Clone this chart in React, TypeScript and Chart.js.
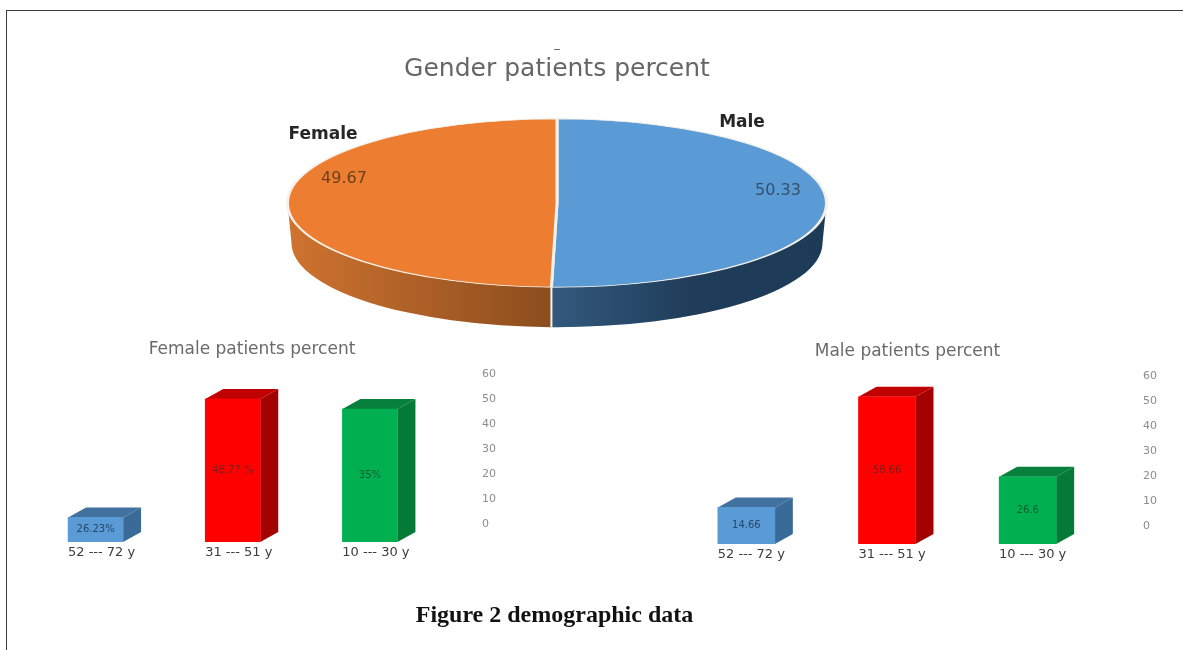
import React, { useEffect, useRef } from "react";
import { Chart, registerables } from "chart.js";

Chart.register(...registerables);

const FONT = "'DejaVu Sans', sans-serif";

const genderLabels = ["Male", "Female"];
const genderValues = [50.33, 49.67];
const genderColors = ["#5b9bd5", "#ed7d31"];

const ageLabels = ["52 --- 72 y", "31 --- 51 y", "10 --- 30 y"];
const axisTicks = [0, 10, 20, 30, 40, 50, 60];
const barColors = ["#5b9bd5", "#ff0000", "#00b050"];
const barTopColors = ["#41719f", "#c00000", "#077f3d"];
const barSideColors = ["#3a6a98", "#a30000", "#047a36"];
const barTextColors = ["#25476c", "#7c1c1c", "#0e5c33"];

// heights as read on the printed right-hand axis of each panel
const femaleBarHeights = [2.8, 50, 46];
const femaleBarLabels = ["26.23%", "48.77 %", "35%"];
const maleBarHeights = [7.6, 51.7, 19.8];
const maleBarLabels = ["14.66", "58.66", "26.6"];

const pieShape = { cx: 557, cy: 203, squash: 84 / 269, depth: 40, wallInset: 4 };

const piePlugin = {
  id: "pie3d",
  beforeDatasetsDraw(chart: any) {
    const { ctx } = chart;
    const arcs = chart.getDatasetMeta(0).data;
    const { cx, cy, squash, depth, wallInset } = pieShape;
    arcs.forEach((arc: any, i: number) => {
      const r = arc.outerRadius;
      const ry = r * squash;
      const a0 = Math.max(arc.startAngle, 0);
      const a1 = Math.min(arc.endAngle, Math.PI);
      if (a1 <= a0) return;
      const grad = ctx.createLinearGradient(cx - r, 0, cx + r, 0);
      if (i === 0) {
        grad.addColorStop(0.49, "#33597d");
        grad.addColorStop(0.75, "#1f3d5a");
        grad.addColorStop(1, "#1d3a56");
      } else {
        grad.addColorStop(0, "#cf7330");
        grad.addColorStop(0.5, "#8a4c1d");
      }
      ctx.save();
      ctx.beginPath();
      ctx.ellipse(cx, cy, r, ry, 0, a0, a1);
      ctx.ellipse(cx, cy + depth, r - wallInset, ry, 0, a1, a0, true);
      ctx.closePath();
      ctx.fillStyle = grad;
      ctx.fill();
      ctx.restore();
    });
    const seam = arcs[0].endAngle;
    const r0 = arcs[0].outerRadius;
    const sx = cx + r0 * Math.cos(seam);
    const sy = cy + r0 * squash * Math.sin(seam);
    ctx.save();
    ctx.strokeStyle = "#f2f2ee";
    ctx.lineWidth = 2;
    ctx.beginPath();
    ctx.moveTo(sx, sy);
    ctx.lineTo(sx, sy + depth);
    ctx.stroke();
    ctx.restore();

    ctx.save();
    ctx.translate(cx, cy);
    ctx.scale(1, squash);
    ctx.translate(-arcs[0].x, -arcs[0].y);
  },
  afterDatasetsDraw(chart: any) {
    const { ctx } = chart;
    ctx.restore();
    ctx.save();
    ctx.textAlign = "center";
    ctx.textBaseline = "middle";
    ctx.fillStyle = "#262626";
    ctx.font = `600 17px ${FONT}`;
    ctx.fillText(genderLabels[0], 742, 123);
    ctx.fillText(genderLabels[1], 323, 135);
    ctx.font = `16px ${FONT}`;
    ctx.fillStyle = "#35506e";
    ctx.fillText(String(genderValues[0]), 778, 191);
    ctx.fillStyle = "#6b421c";
    ctx.fillText(String(genderValues[1]), 344, 179);
    ctx.fillStyle = "#666";
    ctx.font = `14px ${FONT}`;
    ctx.fillText("–", 557, 49);
    ctx.restore();
  },
};

const barPlugin = {
  id: "bar3d",
  afterLayout(chart: any) {
    // centre the title on the whole canvas, not on the padded box
    chart.titleBlock.left = 0;
    chart.titleBlock.right = chart.width;
  },
  beforeDatasetsDraw(chart: any) {
    const { ctx } = chart;
    const dx = 18;
    const dy = 10;
    chart.getDatasetMeta(0).data.forEach((bar: any, i: number) => {
      const right = bar.x + bar.width / 2;
      const left = bar.x - bar.width / 2;
      ctx.save();
      ctx.fillStyle = barSideColors[i];
      ctx.beginPath();
      ctx.moveTo(right, bar.y);
      ctx.lineTo(right + dx, bar.y - dy);
      ctx.lineTo(right + dx, bar.base - dy);
      ctx.lineTo(right, bar.base);
      ctx.closePath();
      ctx.fill();
      ctx.fillStyle = barTopColors[i];
      ctx.beginPath();
      ctx.moveTo(left, bar.y);
      ctx.lineTo(left + dx, bar.y - dy);
      ctx.lineTo(right + dx, bar.y - dy);
      ctx.lineTo(right, bar.y);
      ctx.closePath();
      ctx.fill();
      ctx.restore();
    });
  },
  afterDatasetsDraw(chart: any) {
    const { ctx } = chart;
    const texts = chart.data.datasets[0].valueTexts;
    ctx.save();
    ctx.textAlign = "center";
    ctx.textBaseline = "middle";
    ctx.font = `10px ${FONT}`;
    chart.getDatasetMeta(0).data.forEach((bar: any, i: number) => {
      ctx.fillStyle = barTextColors[i];
      ctx.fillText(texts[i], bar.x, (bar.y + bar.base) / 2);
    });
    ctx.restore();
  },
};

type BarPanelProps = {
  title: string;
  heights: number[];
  texts: string[];
  left: number;
  top: number;
  width: number;
  height: number;
  padLeft: number;
  padRight: number;
  thickness: number;
  tickPad: number;
  labelOffset: number;
};

function BarPanel(p: BarPanelProps) {
  const ref = useRef<HTMLCanvasElement>(null);
  useEffect(() => {
    const chart = new Chart(ref.current as HTMLCanvasElement, {
      type: "bar",
      data: {
        labels: ageLabels,
        datasets: [
          {
            data: p.heights,
            base: -7,
            backgroundColor: barColors,
            barThickness: p.thickness,
            valueTexts: p.texts,
          } as any,
        ],
      },
      options: {
        animation: false,
        responsive: false,
        events: [],
        layout: { padding: { left: p.padLeft, right: p.padRight, top: 0, bottom: 0 } },
        plugins: {
          legend: { display: false },
          tooltip: { enabled: false },
          title: {
            display: true,
            text: p.title,
            color: "#6a6a6a",
            font: { family: FONT, size: 17, weight: "normal" },
            padding: { top: 9, bottom: 14.6 },
          },
        },
        scales: {
          x: {
            grid: { display: false, drawTicks: false },
            border: { display: false },
            afterFit(axis: any) {
              axis.height = 22;
              axis.paddingLeft = 0;
              axis.paddingRight = 0;
              axis.paddingTop = 0;
              axis.paddingBottom = 0;
            },
            ticks: {
              color: "#3c3c3c",
              font: { family: FONT, size: 13 },
              padding: 3.2,
              maxRotation: 0,
              autoSkip: false,
              labelOffset: p.labelOffset,
            },
          },
          y: {
            position: "right",
            min: -7,
            max: 60,
            grid: { display: false, drawTicks: false },
            border: { display: false },
            afterBuildTicks(axis: any) {
              axis.ticks = axisTicks.map((value) => ({ value }));
            },
            afterFit(axis: any) {
              axis.width = p.tickPad + 16;
              axis.paddingTop = 0;
              axis.paddingBottom = 0;
              axis.paddingLeft = 0;
              axis.paddingRight = 0;
            },
            ticks: {
              color: "#8c8c8c",
              font: { family: FONT, size: 11 },
              padding: p.tickPad,
              autoSkip: false,
            },
          },
        },
      } as any,
      plugins: [barPlugin],
    });
    return () => chart.destroy();
  }, []);
  return (
    <canvas
      ref={ref}
      width={p.width}
      height={p.height}
      style={{ position: "absolute", left: p.left, top: p.top, width: p.width, height: p.height, filter: "blur(0.5px)" }}
    />
  );
}

export default function App() {
  const pieRef = useRef<HTMLCanvasElement>(null);
  useEffect(() => {
    const chart = new Chart(pieRef.current as HTMLCanvasElement, {
      type: "pie",
      data: {
        labels: genderLabels,
        datasets: [
          { data: genderValues, backgroundColor: genderColors, borderColor: "#f5f1ea", borderWidth: 3, hoverOffset: 0 },
        ],
      },
      options: {
        animation: false,
        responsive: false,
        events: [],
        layout: { padding: { bottom: 24 } },
        plugins: {
          legend: { display: false },
          tooltip: { enabled: false },
          title: {
            display: true,
            text: "Gender patients percent",
            color: "#666666",
            font: { family: FONT, size: 25, weight: "normal" },
            padding: { top: 54, bottom: 0 },
          },
        },
      } as any,
      plugins: [piePlugin],
    });
    return () => chart.destroy();
  }, []);

  return (
    <div style={{ position: "absolute", left: 0, top: 0, width: 1183, height: 650, background: "#fff", overflow: "hidden" }}>
      <div
        style={{
          position: "absolute",
          left: 6,
          top: 10,
          right: 0,
          bottom: 0,
          borderTop: "1.5px solid #3c3c3c",
          borderLeft: "1.5px solid #3c3c3c",
        }}
      />
      <canvas
        ref={pieRef}
        width={1114}
        height={650}
        style={{ position: "absolute", left: 0, top: 0, width: 1114, height: 650, filter: "blur(0.5px)" }}
      />
      <BarPanel
        title="Female patients percent"
        heights={femaleBarHeights}
        texts={femaleBarLabels}
        left={0}
        top={330}
        width={504}
        height={234}
        padLeft={27}
        padRight={6}
        thickness={55}
        tickPad={43.5}
        labelOffset={6}
      />
      <BarPanel
        title="Male patients percent"
        heights={maleBarHeights}
        texts={maleBarLabels}
        left={650}
        top={332}
        width={515}
        height={234}
        padLeft={26}
        padRight={6}
        thickness={57}
        tickPad={45}
        labelOffset={5}
      />
      <div
        style={{
          position: "absolute",
          left: 374,
          top: 600,
          width: 361,
          textAlign: "center",
          whiteSpace: "nowrap",
          fontFamily: "'Liberation Serif', serif",
          fontWeight: 700,
          fontSize: 24,
          lineHeight: "28px",
          color: "#111",
        }}
      >
        Figure 2 demographic data
      </div>
    </div>
  );
}
